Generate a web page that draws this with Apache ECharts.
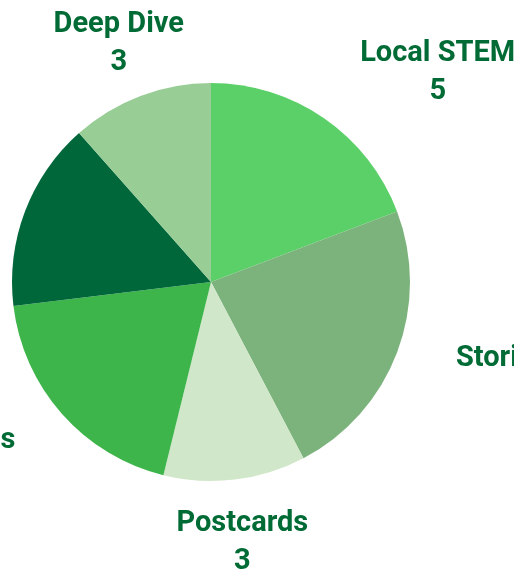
<!DOCTYPE html>
<html>
<head>
<meta charset="utf-8">
<script src="https://cdn.jsdelivr.net/npm/echarts@6/dist/echarts.min.js"></script>
<style>
  html, body { margin: 0; padding: 0; background: #fff; }
  #main { width: 514px; height: 572px; }
</style>
</head>
<body>
<div id="main"></div>
<script>
// slices, clockwise from 12 o'clock
const categories = ['Local STEM', 'Stories of Impact', 'Postcards', 'Videos', 'Workshops', 'Deep Dive'];
const counts = [5, 6, 3, 5, 4, 3];
const sliceColors = ['#5bd068', '#7cb37c', '#d1e7c9', '#3db54a', '#00673a', '#98ce95'];

const cx = 211, cy = 282, radius = 199, lineLen = 61;
const labelFont = 'bold 29px Roboto';

// measure label widths so echarts does not squeeze / truncate the labels at the edge
var ctx = document.createElement('canvas').getContext('2d');
ctx.font = labelFont;
function textWidth(s) {
    return Math.ceil(ctx.measureText(s).width) + 2;
}

var myChart = echarts.init(document.getElementById('main'));

var richStyle = { fontFamily: 'Roboto', fontWeight: 'bold', fontSize: 29, color: '#006b35', align: 'center', lineHeight: 38 };

var option = {
    animation: false,
    series: [
        {
            type: 'pie',
            center: [cx, cy],
            radius: radius,
            startAngle: 90,
            clockwise: true,
            data: categories.map((name, i) => ({
                name: name,
                value: counts[i],
                itemStyle: { color: sliceColors[i] },
                label: { width: Math.max(textWidth(name), textWidth(String(counts[i]))) }
            })),
            label: {
                show: true,
                position: 'outside',
                overflow: 'none',
                distanceToLabelLine: 0,
                formatter: '{n|{b}}\n{v|{c}}',
                rich: { n: richStyle, v: richStyle }
            },
            labelLine: { show: false, length: lineLen, length2: 0 },
            // labels near the top / bottom sit centred over their anchor
            labelLayout: function (params) {
                var r = params.labelRect;
                var ax = params.align === 'left' ? r.x : (params.align === 'right' ? r.x + r.width : r.x + r.width / 2);
                if (Math.abs(ax - cx) < 0.5 * (radius + lineLen)) {
                    return { align: 'center', dy: 5 };
                }
                return { dy: 5 };
            }
        }
    ]
};

myChart.setOption(option);
</script>
</body>
</html>
